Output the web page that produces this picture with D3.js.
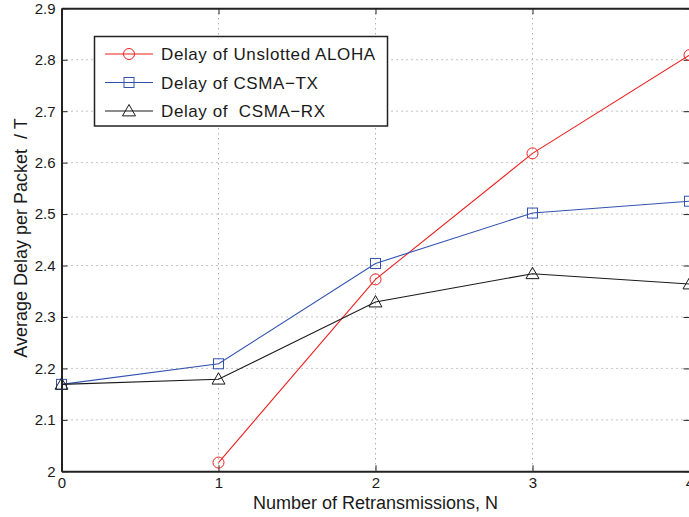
<!DOCTYPE html>
<html>
<head>
<meta charset="utf-8">
<script src="https://cdn.jsdelivr.net/npm/d3@7"></script>
<style>
  html, body { margin: 0; padding: 0; background: #fff; }
  svg { display: block; font-family: "Liberation Sans", Arial, Helvetica, sans-serif; }
  text { white-space: pre; }
</style>
</head>
<body>
<svg id="chart" width="689" height="517"></svg>
<script>
// Average delay per packet (normalised by T) versus number of retransmissions
const retransmissions = [0, 1, 2, 3, 4];
const alohaN = [1, 2, 3, 4];
const alohaDelay = [2.017, 2.373, 2.618, 2.809];
const csmaTxDelay = [2.169, 2.209, 2.404, 2.502, 2.525];
const csmaRxDelay = [2.169, 2.179, 2.329, 2.384, 2.364];
const xTicks = [0, 1, 2, 3, 4];
const yTicks = [2, 2.1, 2.2, 2.3, 2.4, 2.5, 2.6, 2.7, 2.8, 2.9];
const legendLabels = ["Delay of Unslotted ALOHA", "Delay of CSMA\u2212TX", "Delay of  CSMA\u2212RX"];

const svg = d3.select("#chart");
const m = { left: 61.5, right: 689.5, top: 8.3, bottom: 471.3 };

const x = d3.scaleLinear().domain([0, 4]).range([m.left, m.right]);
const y = d3.scaleLinear().domain([2, 2.9]).range([m.bottom, m.top]);

const series = [
  { name: legendLabels[0], xs: alohaN, ys: alohaDelay, color: "#f02020", marker: "circle" },
  { name: legendLabels[1], xs: retransmissions, ys: csmaTxDelay, color: "#3252b0", marker: "square" },
  { name: legendLabels[2], xs: retransmissions, ys: csmaRxDelay, color: "#1a1a1a", marker: "triangle" }
];

// dotted grid
const grid = svg.append("g").attr("stroke", "#8a8a8a").attr("stroke-width", 1)
  .attr("stroke-dasharray", "1,4");
grid.selectAll("line.gx").data(xTicks.slice(1, -1)).join("line")
  .attr("x1", d => x(d)).attr("x2", d => x(d))
  .attr("y1", m.top).attr("y2", m.bottom);
grid.selectAll("line.gy").data(yTicks.slice(1, -1)).join("line")
  .attr("x1", m.left).attr("x2", m.right)
  .attr("y1", d => y(d)).attr("y2", d => y(d));

// axes with inward ticks (left/bottom), mirrored on top/right
const axisColor = "#222";
const axBottom = svg.append("g").attr("transform", `translate(0,${m.bottom})`)
  .call(d3.axisBottom(x).tickValues(xTicks).tickFormat(d3.format("d")).tickSizeInner(-6).tickSizeOuter(0).tickPadding(6));
const axLeft = svg.append("g").attr("transform", `translate(${m.left},0)`)
  .call(d3.axisLeft(y).tickValues(yTicks).tickFormat(d => d === 2 ? "2" : d3.format(".1f")(d)).tickSizeInner(-6).tickSizeOuter(0).tickPadding(6));
const axTop = svg.append("g").attr("transform", `translate(0,${m.top})`)
  .call(d3.axisTop(x).tickValues(xTicks).tickFormat("").tickSizeInner(-6).tickSizeOuter(0));
const axRight = svg.append("g").attr("transform", `translate(${m.right},0)`)
  .call(d3.axisRight(y).tickValues(yTicks).tickFormat("").tickSizeInner(-6).tickSizeOuter(0));

[axBottom, axLeft, axTop, axRight].forEach(g => {
  g.select(".domain").attr("stroke", axisColor).attr("stroke-width", 2);
  g.selectAll(".tick line").attr("stroke", axisColor).attr("stroke-width", 1);
  g.selectAll(".tick text").attr("fill", "#1a1a1a").attr("font-size", 15)
    .attr("font-family", "'Liberation Sans', Arial, sans-serif");
});

// axis titles
svg.append("text").attr("x", 375.5).attr("y", 508.5)
  .attr("text-anchor", "middle").attr("font-size", 18).attr("fill", "#1a1a1a")
  .text("Number of Retransmissions, N");
svg.append("text").attr("transform", "translate(26.5,238) rotate(-90)")
  .attr("text-anchor", "middle").attr("font-size", 18).attr("fill", "#1a1a1a")
  .text("Average Delay per Packet  / T");

// marker drawing helper
function drawMarker(g, kind, cx, cy, color) {
  if (kind === "circle") {
    g.append("circle").attr("cx", cx).attr("cy", cy).attr("r", 5.5)
      .attr("fill", "none").attr("stroke", color).attr("stroke-width", 1);
  } else if (kind === "square") {
    g.append("rect").attr("x", cx - 5).attr("y", cy - 5).attr("width", 10).attr("height", 10)
      .attr("fill", "none").attr("stroke", color).attr("stroke-width", 1);
  } else {
    const s = 6.5;
    g.append("path")
      .attr("d", `M${cx},${cy - s} L${cx + s},${cy + s * 0.75} L${cx - s},${cy + s * 0.75} Z`)
      .attr("fill", "none").attr("stroke", color).attr("stroke-width", 1);
  }
}

// series lines and markers, clipped at the plot region
svg.append("clipPath").attr("id", "plotclip").append("rect")
  .attr("x", m.left - 10).attr("y", m.top - 10)
  .attr("width", m.right - m.left + 20).attr("height", m.bottom - m.top + 20);
const plot = svg.append("g").attr("clip-path", "url(#plotclip)");
const line = d3.line().x(d => x(d[0])).y(d => y(d[1]));
series.forEach(s => {
  const pts = s.xs.map((v, i) => [v, s.ys[i]]);
  plot.append("path").datum(pts).attr("d", line)
    .attr("fill", "none").attr("stroke", s.color).attr("stroke-width", 1.1);
  pts.forEach(p => drawMarker(plot, s.marker, x(p[0]), y(p[1]), s.color));
});

// legend
const lg = svg.append("g");
lg.append("rect").attr("x", 94.5).attr("y", 36.5).attr("width", 293).attr("height", 89.5)
  .attr("fill", "#fff").attr("stroke", axisColor).attr("stroke-width", 1.5);
series.forEach((s, i) => {
  const ly = 54 + i * 28.5;
  lg.append("line").attr("x1", 105).attr("x2", 153).attr("y1", ly).attr("y2", ly)
    .attr("stroke", s.color).attr("stroke-width", 1.1);
  drawMarker(lg, s.marker, 129, ly, s.color);
  lg.append("text").attr("x", 161).attr("y", ly).attr("dy", "0.36em")
    .attr("font-size", 17).attr("letter-spacing", 0.6).attr("fill", "#1a1a1a").text(s.name);
});
</script>
</body>
</html>
